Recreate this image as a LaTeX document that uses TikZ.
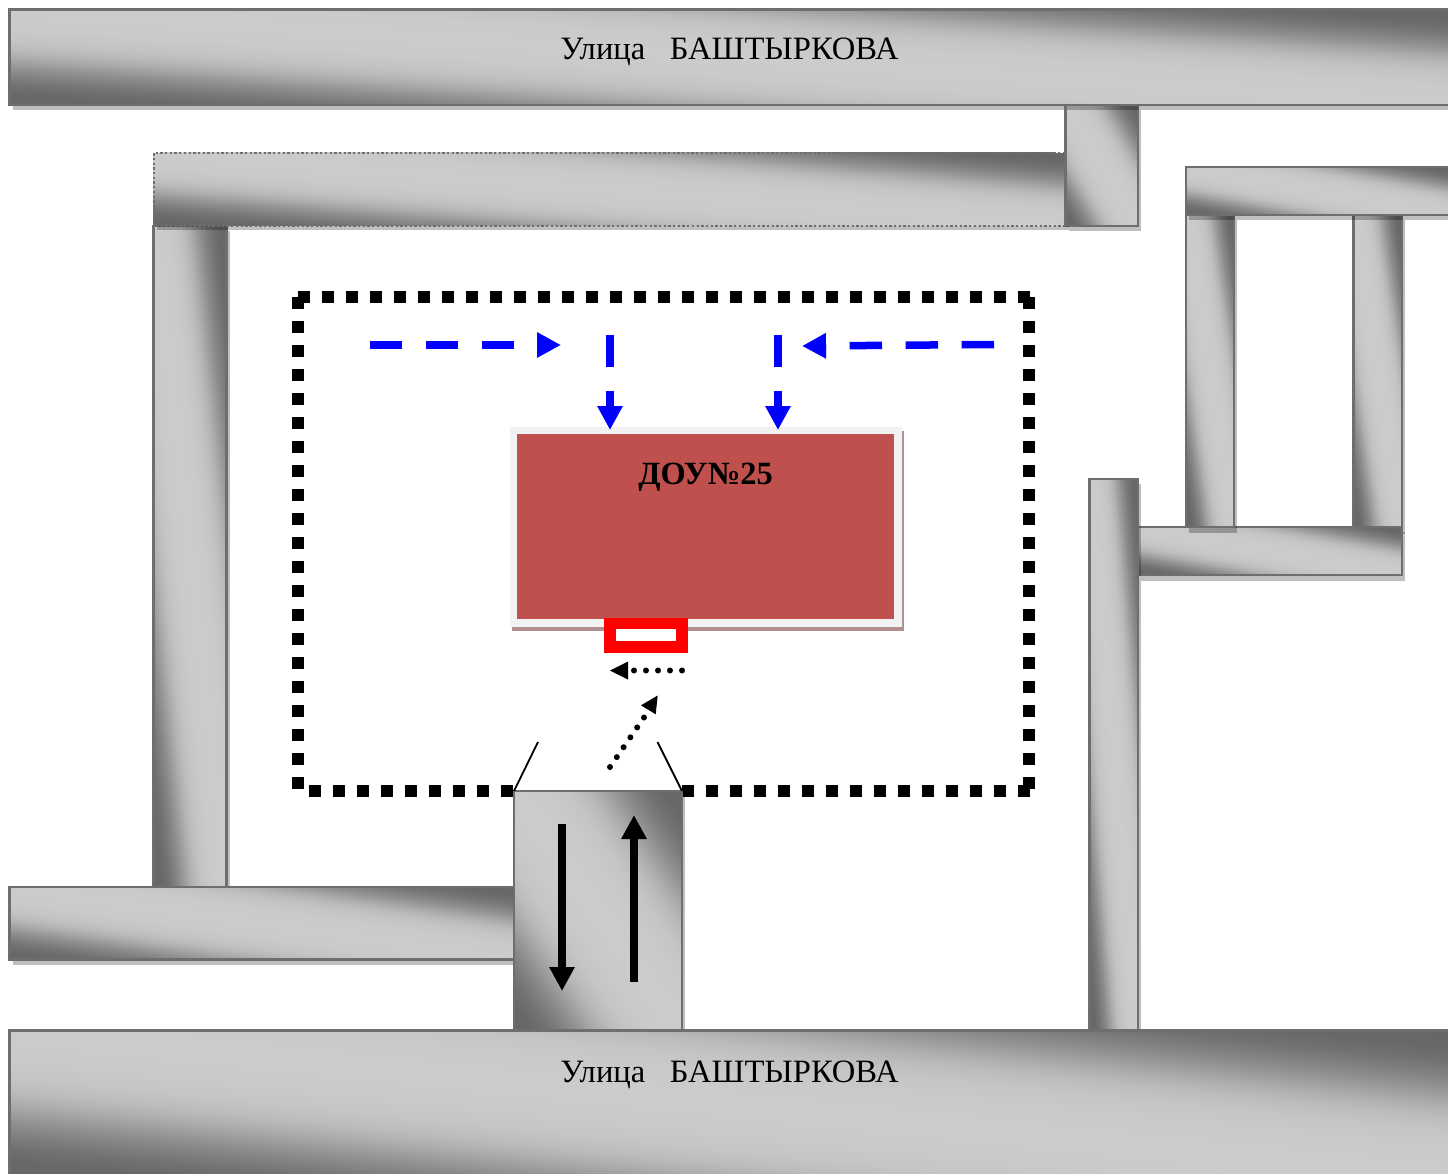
\documentclass[tikz,border=0pt]{standalone}
\usepackage{fontspec}
\setmainfont{Liberation Serif}
\usetikzlibrary{arrows.meta}
\definecolor{roadedge}{HTML}{6E6E6E}
\definecolor{buildfill}{HTML}{C0504D}
\definecolor{buildrim}{HTML}{F2F2F2}
\definecolor{buildshadow}{HTML}{B09090}
\pgfdeclarehorizontalshading{roadshade}{100bp}{%
  color(0bp)=(black!60);
  color(6bp)=(black!59);
  color(10bp)=(black!56);
  color(14bp)=(black!51);
  color(18bp)=(black!45);
  color(22bp)=(black!38);
  color(26bp)=(black!31);
  color(30bp)=(black!26);
  color(34bp)=(black!23);
  color(40bp)=(black!21);
  color(50bp)=(black!20);
  color(60bp)=(black!21);
  color(66bp)=(black!23);
  color(70bp)=(black!26);
  color(74bp)=(black!31);
  color(78bp)=(black!38);
  color(82bp)=(black!45);
  color(86bp)=(black!51);
  color(90bp)=(black!56);
  color(94bp)=(black!59);
  color(100bp)=(black!60)}
\tikzset{
  roadline/.style={draw=roadedge,line width=2.8pt},
  roadshadow/.style={fill=black,fill opacity=.25},
  dottededge/.style={draw=roadedge,line width=2pt,dash pattern=on 2.3pt off 2.4pt},
  streetlabel/.style={font=\fontsize{32.6}{38}\selectfont,text=black,inner sep=0pt},
  bluedash/.style={draw=blue,line width=7.5pt,dash pattern=on 32.4pt off 23.6pt,
    -{Triangle[length=24pt,width=24pt]}},
  blackflow/.style={draw=black,line width=8pt,-{Triangle[length=24pt,width=24pt]}},
  dotflow/.style={draw=black,line width=6pt,line cap=round,dash pattern=on 0pt off 12pt},
  dothead/.style={fill=black},
  fence/.style={draw=black,line width=12pt,dash pattern=on 12pt off 12pt},
  gateline/.style={draw=black,line width=1.8pt}
}
\newcommand{\roadfill}[4]{%
  \begin{scope}
    \clip (#1,#2) rectangle (#3,#4);
    \pgfmathsetmacro\ra{(#3-#1)/2/50.1875}
    \pgfmathsetmacro\rb{(#4-#2)/2/50.1875}
    \pgfmathsetmacro\rcx{(#1+#3)/2}
    \pgfmathsetmacro\rcy{-(#2+#4)/2}
    \pgftransformcm{\ra}{\rb}{-\ra}{\rb}{\pgfpoint{\rcx pt}{\rcy pt}}
    \pgflowlevelsynccm
    \pgftext{\pgfuseshading{roadshade}}
  \end{scope}}
\newcommand{\roadbar}[4]{%
  \fill[roadshadow] (#1+3,#2+5) rectangle (#3+3,#4+5.5);
  \roadfill{#1}{#2}{#3}{#4}
  \draw[roadline] (#1,#2) rectangle (#3,#4);}
\begin{document}
\begin{tikzpicture}[x=1pt,y=-1pt]
\useasboundingbox (0,0) rectangle (1448,1174);
\fill[white] (0,0) rectangle (1448,1174);
% left system
\roadbar{153.5}{226}{226.5}{887}
\roadbar{1065.5}{105}{1138}{226}
\roadbar{9.5}{9.5}{1452}{105}
\fill[roadshadow] (157,226) rectangle (1069,230);
\roadfill{153.5}{153}{1065.5}{226}
\draw[dottededge] (1065,153) -- (153.5,153) -- (153.5,226) -- (1065,226);
\draw[roadline] (1065.5,105) -- (1065.5,226);
\node[streetlabel] (topstreet) at (729.5,51.5) {Улица\ \ \ БАШТЫРКОВА};
% right system
\roadbar{1353.5}{215}{1402}{528}
\roadbar{1138}{527}{1402}{575}
\roadbar{1186}{215}{1234}{527}
\roadbar{1186}{167}{1452}{215}
\roadbar{1089.5}{479}{1138}{1032}
% lower left road
\roadbar{9.5}{887}{514}{959.5}
% fence
\draw[fence] (298,297.15) -- (1030,297.15);
\draw[fence] (297.85,297.3) -- (297.85,789.3);
\draw[fence] (1028.85,297.3) -- (1028.85,789.3);
\draw[fence] (309.3,791.15) -- (513.3,791.15);
\draw[fence] (681.7,791.15) -- (1029.7,791.15);
% gate
\roadbar{514}{791}{682}{1032}
\roadbar{9.5}{1030.5}{1452}{1178}
\node[streetlabel] (bottomstreet) at (729.5,1074.5) {Улица\ \ \ БАШТЫРКОВА};
\draw[gateline] (538,742) -- (514,791);
\draw[gateline] (657.5,742) -- (682,791);
\draw[blackflow] (562,824) -- (562,991);
\draw[blackflow] (634,982) -- (634,815);
% building
\fill[buildshadow] (512,431) rectangle (904.3,631);
\fill[buildrim] (510,427) rectangle (902,627);
\node[draw=none,fill=buildfill,minimum width=377pt,minimum height=185pt,inner sep=0pt,anchor=north west] (school) at (517,434) {};
\node[font=\fontsize{32.4}{37}\selectfont\bfseries,inner sep=0pt] (schoollabel) at (705.5,477.5) {ДОУ№25};
\fill[red] (604,618) rectangle (688,652.5);
\fill[white] (616,629) rectangle (676,641);
% walkways
\draw[bluedash] (369.5,345) -- (561,345);
\draw[bluedash] (610,334.5) -- (610,430);
\draw[bluedash] (778,334.5) -- (778,430);
\draw[bluedash] (994,344.5) -- (802,346);
% dotted arrows
\draw[dotflow] (682,670.5) -- (630,670.5);
\fill[dothead] (610,670.5) -- (628,661.5) -- (628,679.5) -- cycle;
\draw[dotflow] (610,767) -- (644,717.5);
\fill[dothead] (657.7,695.5) -- (641,705.3) -- (655.7,714.3) -- cycle;
\end{tikzpicture}
\end{document}
